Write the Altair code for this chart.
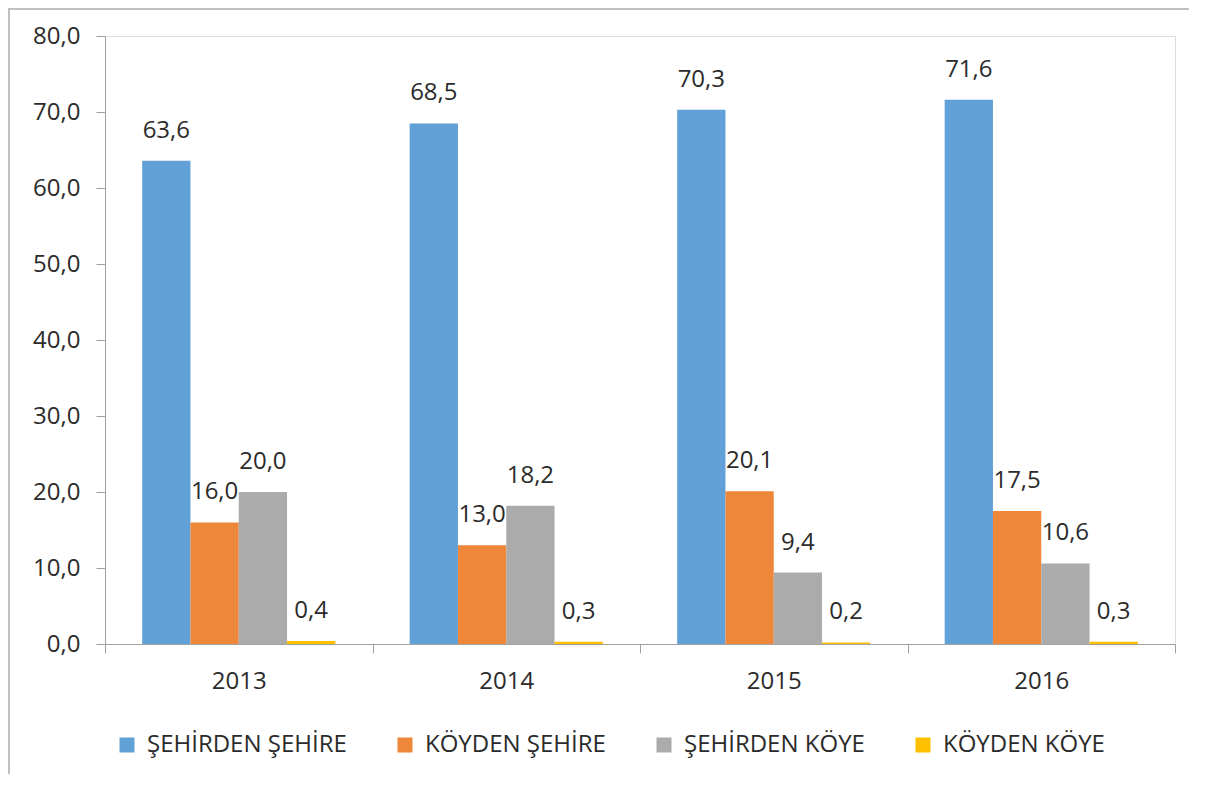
import altair as alt
import pandas as pd

years = ["2013", "2014", "2015", "2016"]
series = ["ŞEHİRDEN ŞEHİRE", "KÖYDEN ŞEHİRE", "ŞEHİRDEN KÖYE", "KÖYDEN KÖYE"]
sehirden_sehire = [63.6, 68.5, 70.3, 71.6]
koyden_sehire = [16.0, 13.0, 20.1, 17.5]
sehirden_koye = [20.0, 18.2, 9.4, 10.6]
koyden_koye = [0.4, 0.3, 0.2, 0.3]
colors = ["#62A0D8", "#EE873A", "#ABABAB", "#FFC000"]

rows = []
for vals, s in zip([sehirden_sehire, koyden_sehire, sehirden_koye, koyden_koye], series):
    for y, v in zip(years, vals):
        rows.append({"Yil": y, "Seri": s, "Deger": v})
df = pd.DataFrame(rows)

FONT = "Open Sans"
TXT = "#2B2B2B"
AX = "#A0A0A0"
W, H = 1070, 608

x_enc = alt.X("Yil:N", sort=years,
              scale=alt.Scale(paddingInner=0, paddingOuter=0),
              axis=alt.Axis(title=None, labelAngle=0, tickBand="extent",
                            tickSize=9, labelPadding=16, labelFontSize=24,
                            labelFont=FONT, labelColor=TXT, domainColor=AX,
                            tickColor=AX, grid=False))
xo_enc = alt.XOffset("Seri:N", sort=series,
                     scale=alt.Scale(paddingOuter=0.77, paddingInner=0))

base = alt.Chart(df)

bars = base.mark_bar().encode(
    x=x_enc,
    xOffset=xo_enc,
    y=alt.Y("Deger:Q",
            scale=alt.Scale(domain=[0, 80]),
            axis=alt.Axis(title=None, values=[0, 10, 20, 30, 40, 50, 60, 70, 80],
                          labelExpr="replace(format(datum.value, '.1f'), '.', ',')",
                          tickSize=9, labelPadding=16, labelFontSize=24,
                          labelFont=FONT, labelColor=TXT, domainColor=AX,
                          tickColor=AX, grid=False)),
    color=alt.Color("Seri:N", sort=series,
                    scale=alt.Scale(domain=series, range=colors),
                    legend=alt.Legend(title=None, orient="none", legendX=10, legendY=697,
                                      direction="horizontal", symbolType="square",
                                      symbolSize=225, symbolStrokeWidth=0,
                                      labelFontSize=24, labelFont=FONT, labelColor=TXT,
                                      labelLimit=0, labelOffset=8, columnPadding=46)),
)

labels = base.transform_calculate(
    lbl="replace(format(datum.Deger, '.1f'), '.', ',')"
).mark_text(font=FONT, fontSize=24, color=TXT, baseline="alphabetic", dy=-23).encode(
    x=alt.X("Yil:N", sort=years),
    xOffset=alt.XOffset("Seri:N", sort=series),
    y=alt.Y("Deger:Q"),
    text="lbl:N",
)

frame_df = pd.DataFrame({"k": [1]})
left_border = alt.Chart(frame_df).mark_rule(color="#BFBFBF", strokeWidth=2).encode(
    x=alt.value(-96), y=alt.value(-28), y2=alt.value(H + 130))
top_border = alt.Chart(frame_df).mark_rule(color="#BFBFBF", strokeWidth=2).encode(
    x=alt.value(-97), x2=alt.value(W + 14), y=alt.value(-27))

chart = alt.layer(bars, labels, left_border, top_border).properties(
    width=W, height=H,
    autosize=alt.AutoSizeParams(type="none"),
    padding={"left": 97, "top": 28, "right": 14, "bottom": 130},
).configure_view(strokeWidth=0).configure(background="white")

chart.save("out.html", embed_options={"renderer": "svg", "actions": False})
